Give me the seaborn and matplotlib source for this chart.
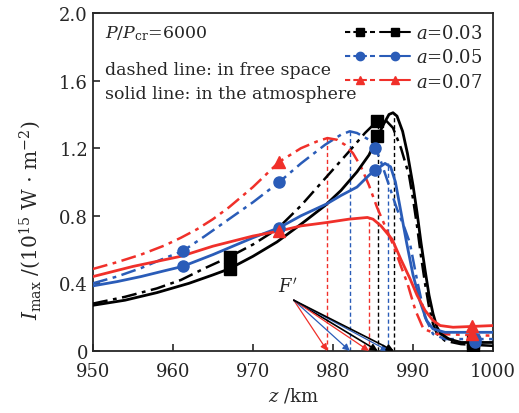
import numpy as np
import pandas as pd
import matplotlib
matplotlib.use("Agg")
import matplotlib.pyplot as plt
import seaborn as sns
from matplotlib.lines import Line2D
from matplotlib.legend_handler import HandlerTuple

# ---------------- data ----------------
z_k_atm = [950, 954, 958, 962, 965, 967, 970, 973, 976, 979, 981, 983, 984.5, 985.5, 986.3, 987, 987.5, 988, 988.7, 989.3, 990, 990.5, 991, 991.5, 992, 992.5, 993, 993.5, 994.5, 996, 1000]
i_k_atm = [0.27, 0.30, 0.345, 0.40, 0.45, 0.485, 0.56, 0.645, 0.75, 0.86, 0.95, 1.06, 1.16, 1.26, 1.34, 1.40, 1.41, 1.39, 1.30, 1.17, 0.98, 0.82, 0.64, 0.48, 0.33, 0.22, 0.14, 0.10, 0.07, 0.05, 0.05]
z_k_free = [950, 954, 958, 961, 964, 967, 970, 973, 976, 979, 982, 984, 985.5, 986.5, 987.5, 988.5, 989.5, 990, 990.5, 991, 991.5, 992, 992.5, 993, 994, 996, 1000]
i_k_free = [0.28, 0.32, 0.37, 0.42, 0.49, 0.555, 0.63, 0.72, 0.86, 1.02, 1.18, 1.29, 1.36, 1.37, 1.32, 1.20, 1.04, 0.90, 0.74, 0.56, 0.40, 0.26, 0.16, 0.10, 0.06, 0.04, 0.03]

z_b_atm = [950, 953, 956, 959, 961.2, 965, 970, 973.3, 976, 979.2, 981, 983, 984.5, 985.3, 986.5, 987.2, 987.8, 988.5, 989.2, 990, 990.9, 991.7, 992.5, 994, 1000]
i_b_atm = [0.385, 0.41, 0.44, 0.475, 0.50, 0.57, 0.67, 0.73, 0.80, 0.87, 0.92, 0.97, 1.04, 1.07, 1.11, 1.09, 1.00, 0.82, 0.64, 0.45, 0.29, 0.18, 0.13, 0.11, 0.11]
z_b_free = [950, 953, 956, 959, 961.2, 964, 967, 970, 973.3, 976, 979, 981, 982.1, 983, 984.5, 985.3, 986, 987, 988, 989, 989.6, 990.5, 991.5, 992.5, 994, 1000]
i_b_free = [0.40, 0.44, 0.49, 0.55, 0.59, 0.68, 0.78, 0.88, 1.00, 1.11, 1.22, 1.28, 1.30, 1.29, 1.25, 1.20, 1.12, 0.98, 0.84, 0.72, 0.64, 0.42, 0.20, 0.10, 0.07, 0.07]

z_r_atm = [950, 955, 961, 965, 970, 973.3, 976, 979.2, 982, 984.3, 985, 986, 987.4, 988.5, 989.6, 990.5, 991.5, 992.5, 993.4, 995, 1000]
i_r_atm = [0.44, 0.50, 0.56, 0.62, 0.68, 0.71, 0.74, 0.76, 0.78, 0.79, 0.78, 0.74, 0.66, 0.54, 0.43, 0.33, 0.24, 0.18, 0.15, 0.14, 0.15]
z_r_free = [950, 953, 956, 959, 961, 963, 965, 967, 970, 973.3, 976, 978, 979.3, 980.5, 981.5, 982.5, 983.5, 984.5, 985.5, 986.5, 987.5, 988.5, 989.3, 990.3, 991.3, 993, 1000]
i_r_free = [0.485, 0.525, 0.57, 0.625, 0.67, 0.72, 0.78, 0.85, 0.97, 1.12, 1.20, 1.24, 1.26, 1.25, 1.22, 1.17, 1.09, 0.98, 0.85, 0.74, 0.63, 0.50, 0.40, 0.24, 0.13, 0.10, 0.09]

# marker positions
mz_k = [967.1, 985.5, 997.5]
mi_k_free = [0.555, 1.36, 0.03]
mi_k_atm = [0.485, 1.27, 0.05]
mz_b = [961.2, 973.3, 985.3, 997.7]
mi_b_free = [0.59, 1.00, 1.20, 0.05]
mi_b_atm = [0.50, 0.73, 1.07, 0.07]
mz_r = [973.3, 997.4]
mi_r_free = [1.12, 0.10]
mi_r_atm = [0.71, 0.15]

# peak (focus) positions: (z, I)
peaks_z = [979.3, 982.1, 985.6, 984.5, 986.9, 987.6]
peaks_i = [1.26, 1.30, 1.37, 0.79, 1.11, 1.41]
peaks_c = ["red", "blue", "black", "red", "blue", "black"]

labels = ["0.03", "0.05", "0.07"]
x_ticks = [950, 960, 970, 980, 990, 1000]
y_ticks = [0, 0.4, 0.8, 1.2, 1.6, 2.0]
y_ticklabels = ["0", "0.4", "0.8", "1.2", "1.6", "2.0"]

# ---------------- style ----------------
sns.set_style("ticks")
plt.rcParams["font.family"] = ["DejaVu Serif"]
plt.rcParams["mathtext.fontset"] = "dejavuserif"
plt.rcParams["xtick.direction"] = "in"
plt.rcParams["ytick.direction"] = "in"

COL = {"black": "#000000", "blue": "#2a5cb8", "red": "#f0302a"}
MK = {"black": "s", "blue": "o", "red": "^"}
DASH = (6, 2.2, 1.5, 2.2)

fig = plt.figure(figsize=(5.19, 4.14), dpi=100)
ax = fig.add_axes([0.179, 0.150, 0.771, 0.816])

series = [
    ("black", z_k_free, i_k_free, z_k_atm, i_k_atm, mz_k, mi_k_free, mi_k_atm),
    ("blue", z_b_free, i_b_free, z_b_atm, i_b_atm, mz_b, mi_b_free, mi_b_atm),
    ("red", z_r_free, i_r_free, z_r_atm, i_r_atm, mz_r, mi_r_free, mi_r_atm),
]

# focus vertical lines
for zz, ii, cc in zip(peaks_z, peaks_i, peaks_c):
    ax.plot([zz, zz], [0, ii], color=COL[cc], lw=1.0, ls=(0, (3, 2)), zorder=2)

for name, zf, yf, za, ya, mz, mf, ma in series:
    dff = pd.DataFrame({"z": zf, "I": yf})
    dfa = pd.DataFrame({"z": za, "I": ya})
    sns.lineplot(data=dff, x="z", y="I", ax=ax, color=COL[name], lw=1.8, sort=False)
    ax.lines[-1].set_dashes(DASH)
    ax.lines[-1].set_zorder(3)
    sns.lineplot(data=dfa, x="z", y="I", ax=ax, color=COL[name], lw=2.0, sort=False)
    ax.lines[-1].set_zorder(4)
    ax.plot(mz, mf, ls="none", marker=MK[name], color=COL[name], ms=8, zorder=5)
    ax.plot(mz, ma, ls="none", marker=MK[name], color=COL[name], ms=8, zorder=5)

# arrows from F'
F = (975.1, 0.30)
for zz, cc in zip(peaks_z, peaks_c):
    lw = 1.2 if cc == "black" else 0.9
    ax.annotate("", xy=(zz, 0.0), xytext=F,
                arrowprops=dict(arrowstyle="-|>", color=COL[cc], lw=lw,
                                mutation_scale=10, shrinkA=0, shrinkB=0),
                zorder=6)
ax.text(974.3, 0.33, r"$F'$", fontsize=13, ha="center", va="bottom")

# texts
ax.text(0.03, 0.97, r"$P/P_{\rm cr}$=6000", transform=ax.transAxes, fontsize=12.5, va="top", ha="left")
ax.text(0.03, 0.858, "dashed line: in free space", transform=ax.transAxes, fontsize=12.5, va="top", ha="left")
ax.text(0.03, 0.787, "solid line: in the atmosphere", transform=ax.transAxes, fontsize=12.5, va="top", ha="left")

# legend
handles = []
for name in ["black", "blue", "red"]:
    h1 = Line2D([], [], color=COL[name], lw=1.5, ls=(0, (2.5, 1.5)), marker=MK[name], ms=6)
    h2 = Line2D([], [], color=COL[name], lw=1.5, ls="-", marker=MK[name], ms=6)
    handles.append((h1, h2))
leg = ax.legend(handles, [r"$a$=" + l for l in labels],
                handler_map={tuple: HandlerTuple(ndivide=None, pad=0.3)},
                loc="upper right", frameon=False, fontsize=13, handlelength=3.6,
                handletextpad=0.3, labelspacing=0.35, borderaxespad=0.2)

ax.set_xlim(950, 1000)
ax.set_ylim(0, 2.0)
ax.set_xticks(x_ticks)
ax.set_yticks(y_ticks)
ax.set_yticklabels(y_ticklabels)
ax.tick_params(labelsize=13, length=5, width=1.2, top=False, right=False)
ax.tick_params(axis="x", pad=8)
ax.set_xlabel(r"$z$ /km", fontsize=13, labelpad=4)
ax.set_ylabel(r"$I_{\rm max}$ /(10$^{15}$ W $\cdot$ m$^{-2}$)", fontsize=14.5)
ax.yaxis.set_label_coords(-0.125, 0.39)
for s in ax.spines.values():
    s.set_linewidth(1.3)
    s.set_visible(True)

fig.savefig("out.png", dpi=100)
